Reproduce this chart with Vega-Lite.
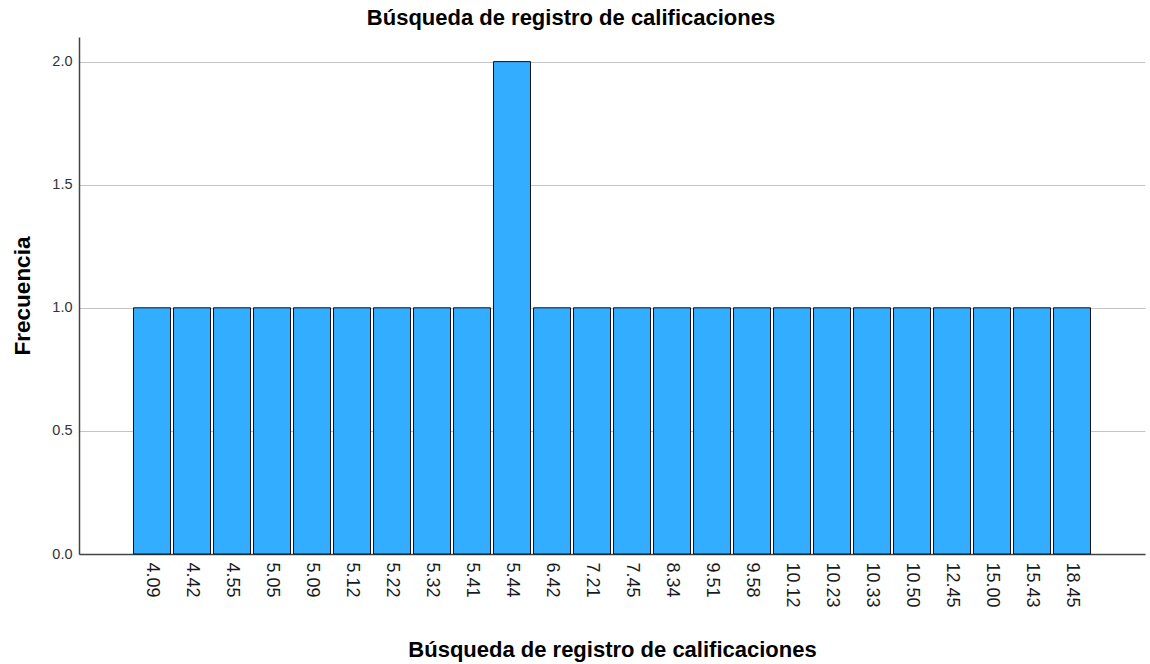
{
  "$schema": "https://vega.github.io/schema/vega-lite/v6.json",
  "width": 1066,
  "height": 517,
  "autosize": {"type": "none"},
  "padding": {"left": 79, "top": 37, "right": 5, "bottom": 110},
  "background": "white",
  "title": {
    "text": "Búsqueda de registro de calificaciones",
    "font": "Liberation Sans",
    "fontSize": 22,
    "fontWeight": "bold",
    "color": "#000000",
    "anchor": "middle",
    "dx": -41,
    "offset": 7
  },
  "data": {
    "values": [
      {"valor": "4.09", "frecuencia": 1},
      {"valor": "4.42", "frecuencia": 1},
      {"valor": "4.55", "frecuencia": 1},
      {"valor": "5.05", "frecuencia": 1},
      {"valor": "5.09", "frecuencia": 1},
      {"valor": "5.12", "frecuencia": 1},
      {"valor": "5.22", "frecuencia": 1},
      {"valor": "5.32", "frecuencia": 1},
      {"valor": "5.41", "frecuencia": 1},
      {"valor": "5.44", "frecuencia": 2},
      {"valor": "6.42", "frecuencia": 1},
      {"valor": "7.21", "frecuencia": 1},
      {"valor": "7.45", "frecuencia": 1},
      {"valor": "8.34", "frecuencia": 1},
      {"valor": "9.51", "frecuencia": 1},
      {"valor": "9.58", "frecuencia": 1},
      {"valor": "10.12", "frecuencia": 1},
      {"valor": "10.23", "frecuencia": 1},
      {"valor": "10.33", "frecuencia": 1},
      {"valor": "10.50", "frecuencia": 1},
      {"valor": "12.45", "frecuencia": 1},
      {"valor": "15.00", "frecuencia": 1},
      {"valor": "15.43", "frecuencia": 1},
      {"valor": "18.45", "frecuencia": 1}
    ]
  },
  "config": {
    "view": {"stroke": null},
    "font": "Liberation Sans"
  },
  "mark": {"type": "bar", "color": "#33adff", "stroke": "#111111", "strokeWidth": 1},
  "encoding": {
    "x": {
      "field": "valor",
      "type": "nominal",
      "sort": null,
      "scale": {
        "domain": ["_izq", "4.09", "4.42", "4.55", "5.05", "5.09", "5.12", "5.22", "5.32", "5.41", "5.44", "6.42", "7.21", "7.45", "8.34", "9.51", "9.58", "10.12", "10.23", "10.33", "10.50", "12.45", "15.00", "15.43", "18.45", "_der"],
        "paddingInner": 0.075,
        "paddingOuter": 0.3625
      },
      "axis": {
        "title": "Búsqueda de registro de calificaciones",
        "titleFont": "Liberation Sans",
        "titleFontSize": 22,
        "titleFontWeight": "bold",
        "titleColor": "#000000",
        "titlePadding": 32,
        "labelExpr": "datum.value == '_izq' || datum.value == '_der' ? '' : datum.label",
        "labelAngle": 90,
        "labelFont": "Liberation Sans",
        "labelFontSize": 18,
        "labelColor": "#1a1a1a",
        "labelPadding": 8,
        "labelOverlap": false,
        "ticks": false,
        "domainColor": "#444444",
        "domainWidth": 1.5,
        "grid": false
      }
    },
    "y": {
      "field": "frecuencia",
      "type": "quantitative",
      "scale": {"domain": [0, 2.1], "nice": false},
      "axis": {
        "title": "Frecuencia",
        "titleFont": "Liberation Sans",
        "titleFontSize": 22.5,
        "titleFontWeight": "bold",
        "titleColor": "#000000",
        "titlePadding": 17,
        "values": [0, 0.5, 1, 1.5, 2],
        "format": ".1f",
        "labelFont": "Liberation Sans",
        "labelFontSize": 14.5,
        "labelColor": "#333333",
        "labelPadding": 7,
        "ticks": false,
        "domainColor": "#444444",
        "domainWidth": 1.5,
        "grid": true,
        "gridColor": "#c4c4c4",
        "gridWidth": 1
      }
    }
  }
}
